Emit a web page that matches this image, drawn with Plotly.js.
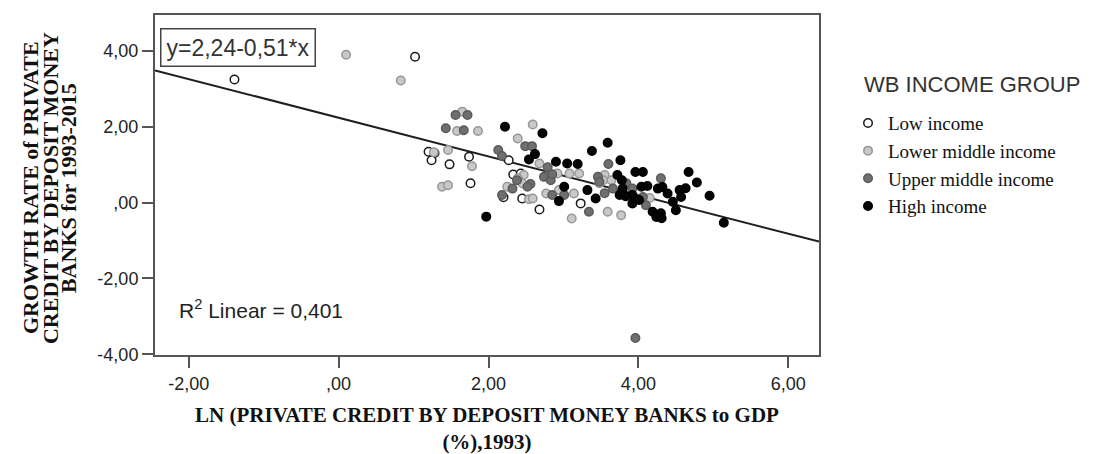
<!DOCTYPE html>
<html>
<head>
<meta charset="utf-8">
<script src="https://cdn.plot.ly/plotly-3.0.1.min.js"></script>
<style>
html,body{margin:0;padding:0;background:#fff;}
#chart{width:1094px;height:454px;}
</style>
</head>
<body>
<div id="chart"></div>
<script>
// Series names
const groupNames = ["Low income", "Lower middle income", "Upper middle income", "High income"];

// Low income
const lowX = [-1.39, 1.02, 1.20, 1.28, 1.24, 1.48, 1.74, 1.76, 2.27, 2.33, 2.43, 2.20, 2.45, 2.68, 3.23];
const lowY = [3.25, 3.85, 1.34, 1.31, 1.12, 1.01, 1.21, 0.51, 1.12, 0.74, 0.77, 0.14, 0.11, -0.18, -0.02];

// Lower middle income
const lmX = [0.10, 0.83, 1.65, 1.58, 1.86, 1.46, 1.78, 1.38, 1.46, 1.27, 2.59, 2.39, 2.68, 2.47, 2.54, 2.77, 3.08, 3.21, 2.92, 3.48, 3.11, 3.59, 3.77, 2.45, 2.59, 3.14, 3.55, 2.25, 2.94, 4.15, 3.64, 2.39, 3.53];
const lmY = [3.90, 3.22, 2.40, 1.89, 1.89, 1.39, 0.96, 0.42, 0.46, 1.33, 2.06, 1.69, 1.03, 0.73, 0.09, 0.24, 0.77, 0.77, 0.77, 0.51, -0.42, -0.24, -0.33, 0.51, 0.11, 0.24, 0.73, 0.42, 0.33, 0.12, 0.59, 0.64, 0.59];

// Upper middle income
const umX = [3.96, 1.56, 1.72, 1.43, 1.67, 2.13, 2.18, 2.49, 2.58, 2.79, 3.60, 3.46, 2.74, 2.83, 2.32, 2.85, 3.34, 3.66, 4.30, 4.06, 4.10, 2.56, 2.38, 3.01, 3.55, 3.84, 2.18, 2.85, 3.48, 2.52, 3.92];
const umY = [-3.57, 2.31, 2.31, 1.96, 1.91, 1.39, 1.23, 1.49, 1.49, 0.93, 1.02, 0.68, 0.68, 0.59, 0.37, 0.20, -0.24, 0.37, 0.64, 0.15, -0.07, 0.49, 0.59, 0.20, 0.25, 0.51, 0.20, 0.75, 0.55, 0.42, 0.37];

// High income
const hiX = [2.22, 2.72, 1.97, 2.62, 2.54, 2.90, 3.05, 3.19, 3.38, 3.59, 3.76, 3.72, 3.78, 3.96, 4.06, 4.67, 4.78, 4.95, 5.14, 3.79, 4.04, 4.26, 4.32, 4.39, 4.55, 4.57, 3.92, 3.92, 4.46, 4.50, 4.19, 4.30, 4.24, 4.31, 3.01, 3.32, 3.43, 2.94, 3.75, 3.83, 4.01, 4.12, 4.63];
const hiY = [2.00, 1.83, -0.37, 1.28, 1.14, 1.08, 1.03, 1.02, 1.36, 1.58, 1.12, 0.73, 0.59, 0.81, 0.81, 0.81, 0.53, 0.18, -0.53, 0.37, 0.42, 0.37, 0.41, 0.24, 0.33, 0.15, 0.20, -0.02, 0.02, -0.20, -0.24, -0.28, -0.38, -0.41, 0.42, 0.33, 0.11, 0.04, 0.20, 0.17, 0.07, 0.44, 0.38];

// Fit line coefficients
const intercept = 2.24;
const slope = -0.51;
const r2 = "0,401";

// Axis ticks
const xTickVals = [-2, 0, 2, 4, 6];
const xTickText = ["-2,00", ",00", "2,00", "4,00", "6,00"];
const yTickVals = [-4, -2, 0, 2, 4];
const yTickText = ["-4,00", "-2,00", ",00", "2,00", "4,00"];
const xRange = [-2.45, 6.41];
const yRange = [-4.02, 4.95];

const yTitleLines = ["GROWTH RATE of PRIVATE", "CREDIT BY DEPOSIT MONEY", "BANKS for 1993-2015"];
const xTitle = "LN (PRIVATE CREDIT BY DEPOSIT MONEY BANKS to GDP<br>(%),1993)";

const sans = "Liberation Sans, Arial, sans-serif";
const serif = "Liberation Serif, Times New Roman, serif";

function markerTrace(xs, ys, name, fill, line) {
  return {
    type: "scatter", mode: "markers", x: xs, y: ys, name: name,
    marker: {size: 8.5, color: fill, line: {color: line, width: 1.5}},
    hoverinfo: "x+y+name"
  };
}

const fitX = xRange.slice();
const fitY = fitX.map(v => intercept + slope * v);

const data = [
  {type: "scatter", mode: "lines", x: fitX, y: fitY, showlegend: false,
   line: {color: "#1e1e1e", width: 2}, hoverinfo: "skip"},
  markerTrace(lowX, lowY, groupNames[0], "#ffffff", "#1a1a1a"),
  markerTrace(lmX, lmY, groupNames[1], "#c8c8c8", "#979797"),
  markerTrace(umX, umY, groupNames[2], "#6f6f6f", "#5a5a5a"),
  markerTrace(hiX, hiY, groupNames[3], "#050505", "#000000")
];

const plotL = 155, plotR = 819, plotT = 15, plotB = 355;

const annotations = [
  {xref: "paper", yref: "paper", x: 0.125, y: 0.905, xanchor: "center", yanchor: "middle",
   text: "y=2,24-0,51*x", showarrow: false,
   font: {family: sans, size: 23, color: "#333"},
   bordercolor: "#444", borderwidth: 1.5, borderpad: 5, bgcolor: "#fff"},
  {xref: "paper", yref: "paper", x: 0.033, y: 0.135, xanchor: "left", yanchor: "middle",
   text: "R<sup>2</sup> Linear = " + r2, showarrow: false,
   font: {family: sans, size: 21, color: "#222"}},
  {xref: "paper", yref: "paper", x: 1.0648, y: 0.797, xanchor: "left", yanchor: "middle",
   text: "WB INCOME GROUP", showarrow: false,
   font: {family: sans, size: 22, color: "#333"}}
];
const yTitleX = [30, 50, 68];
yTitleLines.forEach((t, i) => {
  annotations.push({xref: "paper", yref: "paper", x: 0, y: 0.491,
    xshift: yTitleX[i] - plotL, xanchor: "center", yanchor: "middle",
    text: t, textangle: -90, showarrow: false,
    font: {family: serif, size: 22, color: "#111", weight: "bold"}});
});

const layout = {
  width: 1094, height: 454,
  margin: {l: plotL, r: 1094 - plotR, t: plotT, b: 454 - plotB, pad: 0},
  paper_bgcolor: "#fff", plot_bgcolor: "#fff",
  showlegend: true,
  legend: {x: 1.0437, xanchor: "left", y: 0.738, yanchor: "top",
    font: {family: serif, size: 19, color: "#111"}, bgcolor: "rgba(0,0,0,0)",
    itemwidth: 30, tracegroupgap: 0},
  xaxis: {range: xRange, tickvals: xTickVals, ticktext: xTickText,
    showgrid: false, zeroline: false, showline: true, mirror: true,
    linecolor: "#555", linewidth: 2, ticks: "outside", ticklen: 11, tickwidth: 2, tickcolor: "#555",
    tickfont: {family: sans, size: 18, color: "#222"},
    title: {text: xTitle, standoff: 24, font: {family: serif, size: 21, color: "#111", weight: "bold"}}},
  yaxis: {range: yRange, tickvals: yTickVals, ticktext: yTickText,
    showgrid: false, zeroline: false, showline: true, mirror: true,
    linecolor: "#555", linewidth: 2, ticks: "outside", ticklen: 11, tickwidth: 2, tickcolor: "#555",
    tickfont: {family: sans, size: 18, color: "#222"}},
  annotations: annotations
};

Plotly.newPlot("chart", data, layout, {displayModeBar: false});
</script>
</body>
</html>
